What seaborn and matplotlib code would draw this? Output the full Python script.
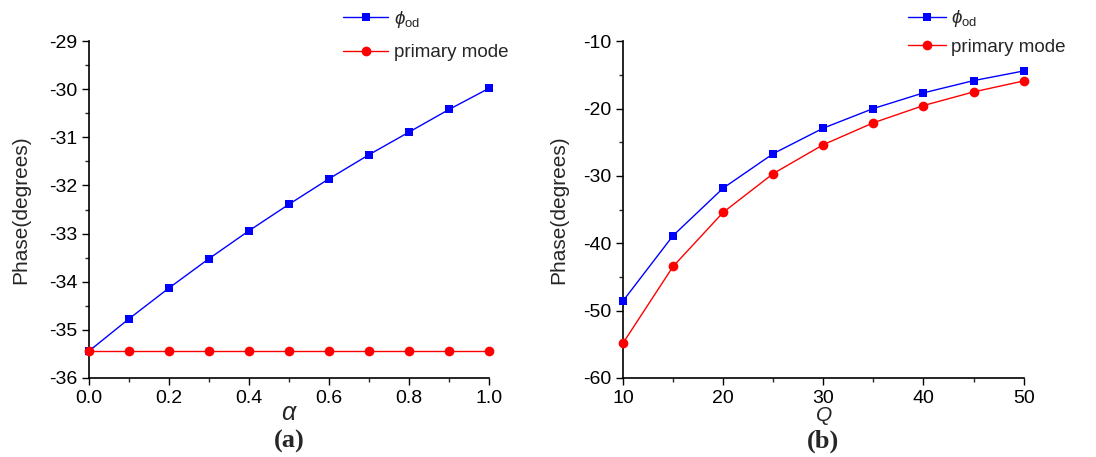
import matplotlib
matplotlib.use("Agg")
import matplotlib.pyplot as plt
import seaborn as sns
import pandas as pd
from matplotlib.ticker import MultipleLocator

# ---- data ----
alpha = [0.0, 0.1, 0.2, 0.3, 0.4, 0.5, 0.6, 0.7, 0.8, 0.9, 1.0]
phi_od_a = [-35.44, -34.77, -34.13, -33.52, -32.94, -32.39, -31.86, -31.36, -30.89, -30.42, -29.98]
primary_a = [-35.44] * 11

Q = [10, 15, 20, 25, 30, 35, 40, 45, 50]
phi_od_b = [-48.57, -38.87, -31.82, -26.70, -22.91, -20.00, -17.68, -15.86, -14.43]
primary_b = [-54.83, -43.45, -35.42, -29.66, -25.37, -22.12, -19.56, -17.54, -15.91]

series_names = [r"$\phi_{\mathrm{od}}$", "primary mode"]

sns.set_style("ticks")
plt.rcParams["font.family"] = ["Liberation Sans", "DejaVu Sans"]
plt.rcParams["axes.unicode_minus"] = False
plt.rcParams["mathtext.fontset"] = "custom"
plt.rcParams["mathtext.rm"] = "Liberation Sans"
plt.rcParams["mathtext.it"] = "Liberation Sans:italic"

fig = plt.figure(figsize=(10.96, 4.57), dpi=100)
axA = fig.add_axes([0.0812, 0.1729, 0.3650, 0.7371])
axB = fig.add_axes([0.5684, 0.1729, 0.3656, 0.7371])

def draw(ax, x, y1, y2):
    df1 = pd.DataFrame({"x": x, "y": y1})
    df2 = pd.DataFrame({"x": x, "y": y2})
    sns.lineplot(data=df1, x="x", y="y", ax=ax, color="#0000ff", marker="s",
                 markersize=6, markeredgewidth=0, linewidth=1.0, label=series_names[0],
                 clip_on=False, zorder=3)
    sns.lineplot(data=df2, x="x", y="y", ax=ax, color="#ff0000", marker="o",
                 markersize=7, markeredgewidth=0, linewidth=1.0, label=series_names[1],
                 clip_on=False, zorder=3)
    for s in ["top", "right"]:
        ax.spines[s].set_visible(False)
    for s in ["left", "bottom"]:
        ax.spines[s].set_linewidth(1.2)
        ax.spines[s].set_color("black")
    ax.tick_params(which="major", direction="out", length=5, width=1.0, labelsize=14, colors="black")
    ax.tick_params(which="minor", direction="out", length=3, width=1.0)
    ax.set_ylabel("Phase(degrees)", fontsize=15)

draw(axA, alpha, phi_od_a, primary_a)
axA.set_xlim(0, 1.0)
axA.set_ylim(-36, -29)
axA.xaxis.set_major_locator(MultipleLocator(0.2))
axA.xaxis.set_minor_locator(MultipleLocator(0.1))
axA.yaxis.set_major_locator(MultipleLocator(1))
axA.yaxis.set_minor_locator(MultipleLocator(0.5))
axA.set_xticks([0.0, 0.2, 0.4, 0.6, 0.8, 1.0])
axA.set_xticklabels(["0.0", "0.2", "0.4", "0.6", "0.8", "1.0"])
axA.set_xlabel(r"$\alpha$", fontsize=18, labelpad=-4)
axA.yaxis.set_label_coords(-0.148, 0.5)
axA.legend(loc="upper left", bbox_to_anchor=(0.617, 1.118), frameon=False, fontsize=13.5,
           handlelength=2.4, handletextpad=0.3, labelspacing=0.75, borderaxespad=0)

draw(axB, Q, phi_od_b, primary_b)
axB.set_xlim(10, 50)
axB.set_ylim(-60, -10)
axB.xaxis.set_major_locator(MultipleLocator(10))
axB.xaxis.set_minor_locator(MultipleLocator(5))
axB.yaxis.set_major_locator(MultipleLocator(10))
axB.yaxis.set_minor_locator(MultipleLocator(5))
axB.set_xlabel(r"$Q$", fontsize=15, labelpad=-1)
axB.yaxis.set_label_coords(-0.137, 0.5)
axB.legend(loc="upper left", bbox_to_anchor=(0.693, 1.12), frameon=False, fontsize=13.5,
           handlelength=2.0, handletextpad=0.3, labelspacing=0.5, borderaxespad=0)

fig.text(0.264, 0.035, "(a)", fontsize=19, fontweight="bold", family="Liberation Serif",
         ha="center", va="center")
fig.text(0.751, 0.035, "(b)", fontsize=19, fontweight="bold", family="Liberation Serif",
         ha="center", va="center")

fig.savefig("out.png", dpi=100)
